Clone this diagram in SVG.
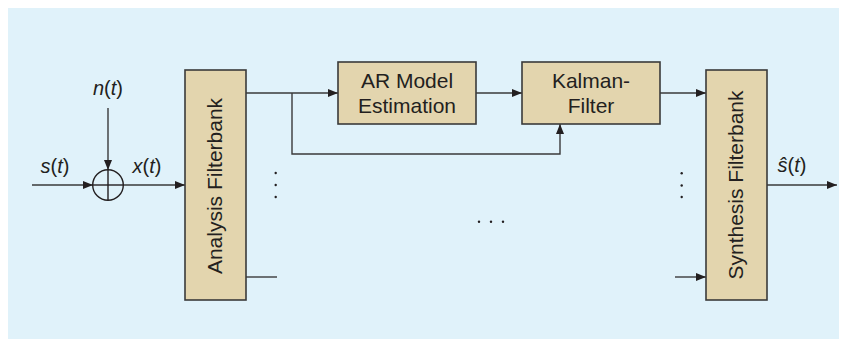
<svg xmlns="http://www.w3.org/2000/svg" width="847" height="339" viewBox="0 0 847 339">
  <style>
    .box { fill: #e3d5ae; stroke: #3a3a3a; stroke-width: 1.6; }
    .wire { fill: none; stroke: #3a3a3a; stroke-width: 1.4; }
    .lbl { font-family: "Liberation Sans", Arial, sans-serif; font-size: 21px; fill: #231f20; }
    .sig { font-family: "Liberation Sans", Arial, sans-serif; font-size: 20px; fill: #231f20; }
    .it { font-style: italic; }
    .dot { fill: #231f20; }
  </style>
  <defs>
    <marker id="arr" viewBox="0 0 10 8" refX="10" refY="4" markerWidth="10" markerHeight="8" markerUnits="userSpaceOnUse" orient="auto">
      <path d="M0,0 L10,4 L0,8 Z" fill="#231f20"/>
    </marker>
  </defs>

  <rect x="0" y="0" width="847" height="339" fill="#ffffff"/>
  <rect x="8" y="8" width="831" height="331" fill="#e0f2fa"/>

  <g id="connectors">
    <line class="wire" x1="32" y1="185" x2="93" y2="185" marker-end="url(#arr)"/>
    <line class="wire" x1="108" y1="108" x2="108" y2="170" marker-end="url(#arr)"/>
    <line class="wire" x1="123" y1="185" x2="185" y2="185" marker-end="url(#arr)"/>
    <line class="wire" x1="246" y1="93" x2="338" y2="93" marker-end="url(#arr)"/>
    <polyline class="wire" points="292,93 292,154 560,154 560,124" marker-end="url(#arr)"/>
    <line class="wire" x1="476" y1="93" x2="522" y2="93" marker-end="url(#arr)"/>
    <line class="wire" x1="660" y1="93" x2="706" y2="93" marker-end="url(#arr)"/>
    <line class="wire" x1="246" y1="277" x2="277" y2="277"/>
    <line class="wire" x1="675" y1="277" x2="706" y2="277" marker-end="url(#arr)"/>
    <line class="wire" x1="767" y1="185" x2="837" y2="185" marker-end="url(#arr)"/>
  </g>

  <g id="sum">
    <circle cx="108" cy="185" r="15.3" fill="none" stroke="#231f20" stroke-width="1.4"/>
    <line x1="93" y1="185" x2="123" y2="185" stroke="#231f20" stroke-width="1.4"/>
    <line x1="108" y1="170" x2="108" y2="200" stroke="#231f20" stroke-width="1.4"/>
  </g>

  <g id="signals">
    <text class="sig" x="108" y="95" text-anchor="middle"><tspan class="it">n</tspan>(<tspan class="it">t</tspan>)</text>
    <text class="sig" x="55" y="173" text-anchor="middle"><tspan class="it">s</tspan>(<tspan class="it">t</tspan>)</text>
    <text class="sig" x="147" y="173" text-anchor="middle"><tspan class="it">x</tspan>(<tspan class="it">t</tspan>)</text>
    <text class="sig" x="792" y="172" text-anchor="middle"><tspan class="it">ŝ</tspan>(<tspan class="it">t</tspan>)</text>
  </g>

  <g id="analysis">
    <rect class="box" x="185" y="70" width="61" height="230"/>
    <text class="lbl" transform="translate(222,186) rotate(-90)" text-anchor="middle">Analysis Filterbank</text>
  </g>

  <g id="ar-model">
    <rect class="box" x="338" y="62" width="138" height="62"/>
    <text class="lbl" x="407" y="88" text-anchor="middle">AR Model</text>
    <text class="lbl" x="407" y="113" text-anchor="middle">Estimation</text>
  </g>

  <g id="kalman">
    <rect class="box" x="522" y="62" width="138" height="62"/>
    <text class="lbl" x="591" y="88" text-anchor="middle">Kalman-</text>
    <text class="lbl" x="591" y="113" text-anchor="middle">Filter</text>
  </g>

  <g id="synthesis">
    <rect class="box" x="706" y="70" width="61" height="230"/>
    <text class="lbl" transform="translate(743,185) rotate(-90)" text-anchor="middle">Synthesis Filterbank</text>
  </g>

  <g id="ellipses">
    <circle class="dot" cx="275.7" cy="173" r="1.2"/>
    <circle class="dot" cx="275.7" cy="185" r="1.2"/>
    <circle class="dot" cx="275.7" cy="197" r="1.2"/>
    <circle class="dot" cx="479" cy="221.7" r="1.2"/>
    <circle class="dot" cx="491" cy="221.7" r="1.2"/>
    <circle class="dot" cx="503" cy="221.7" r="1.2"/>
    <circle class="dot" cx="681.7" cy="173.3" r="1.2"/>
    <circle class="dot" cx="681.7" cy="185.5" r="1.2"/>
    <circle class="dot" cx="681.7" cy="197" r="1.2"/>
  </g>
</svg>
